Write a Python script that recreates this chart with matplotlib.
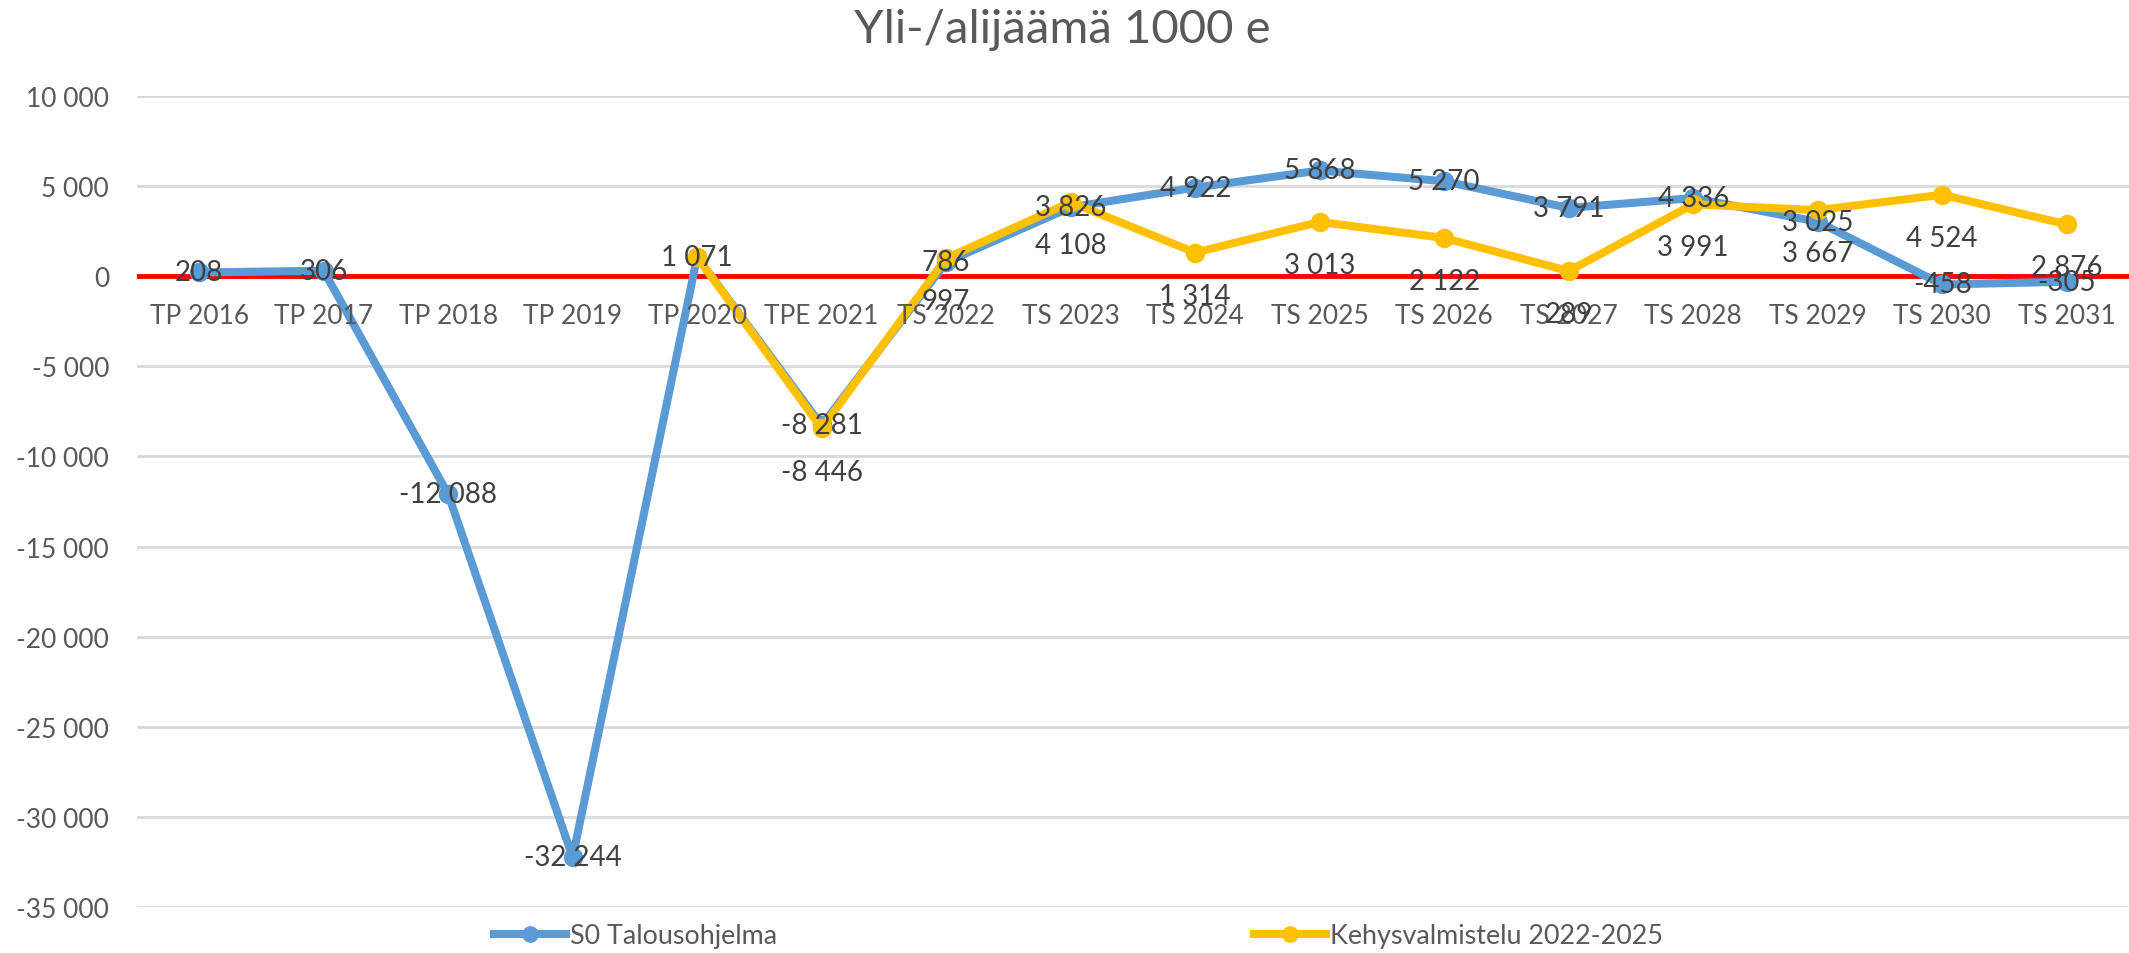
import numpy as np
import matplotlib
matplotlib.use("Agg")
import matplotlib.pyplot as plt
from matplotlib.lines import Line2D

plt.rcParams['font.family'] = ['Lato', 'DejaVu Sans']

categories = ["TP 2016", "TP 2017", "TP 2018", "TP 2019", "TP 2020", "TPE 2021",
              "TS 2022", "TS 2023", "TS 2024", "TS 2025", "TS 2026", "TS 2027",
              "TS 2028", "TS 2029", "TS 2030", "TS 2031"]
talousohjelma = [208, 306, -12088, -32244, 1071, -8281, 786, 3826, 4922, 5868,
                 5270, 3791, 4336, 3025, -458, -305]
kehysvalmistelu = [np.nan, np.nan, np.nan, np.nan, 1071, -8446, 997, 4108, 1314,
                   3013, 2122, 289, 3991, 3667, 4524, 2876]
yticks = list(range(-35000, 10001, 5000))

blue = "#5B9BD5"
yellow = "#FFC000"
label_col = "#404040"
axis_col = "#595959"


def fmt(v):
    return f"{int(v):,}".replace(",", " ")


fig = plt.figure(figsize=(21.29, 9.54), dpi=100)
ax = fig.add_axes([0.0643, 0.0482, 0.9357, 0.8501])

x = np.arange(len(categories))
ax.plot(x, talousohjelma, color=blue, lw=5.8, marker="o", ms=13,
        solid_capstyle="round", zorder=3)
ax.plot(x, kehysvalmistelu, color=yellow, lw=5.8, marker="o", ms=13,
        solid_capstyle="round", zorder=4)
ax.axhline(0, color="#FF0000", lw=3.5, zorder=2)

ax.set_xlim(-0.5, len(categories) - 0.5)
ax.set_ylim(-35000, 10000)
ax.set_yticks(yticks)
ax.set_yticklabels([fmt(v) for v in yticks])
ax.tick_params(axis="y", length=0, pad=20, labelsize=19, labelcolor=axis_col)
ax.set_xticks([])
ax.grid(axis="y", color="#D9D9D9", lw=2, zorder=0)
for s in ax.spines.values():
    s.set_visible(False)

# category labels sit just under the zero line
for i, c in enumerate(categories):
    ax.annotate(c, (i, 0), xytext=(0, -28), textcoords="offset points",
                ha="center", va="center", fontsize=19, color=axis_col, zorder=5)

# data labels: blue centred on the point, yellow below
for i, v in enumerate(talousohjelma):
    ax.annotate(fmt(v), (i, v), ha="center", va="center", fontsize=20,
                color=label_col, zorder=6)
for i, v in enumerate(kehysvalmistelu):
    if np.isnan(v) or i == 4:
        continue
    ax.annotate(fmt(v), (i, v), xytext=(0, -31), textcoords="offset points",
                ha="center", va="center", fontsize=20, color=label_col, zorder=6)

fig.text(0.499, 0.955, "Yli-/alijäämä 1000 e", ha="center", va="baseline",
         fontsize=34, color=axis_col)

handles = [Line2D([], [], color=blue, lw=5.8, marker="o", ms=11),
           Line2D([], [], color=yellow, lw=5.8, marker="o", ms=11)]
fig.legend(handles, ["S0 Talousohjelma", "Kehysvalmistelu 2022-2025"],
           loc="center", bbox_to_anchor=(0.5066, 0.018), ncol=2, frameon=False,
           fontsize=19.4, handlelength=2.67, handletextpad=0.15,
           columnspacing=17.7, labelcolor=axis_col)

fig.savefig("out.png", dpi=100)
